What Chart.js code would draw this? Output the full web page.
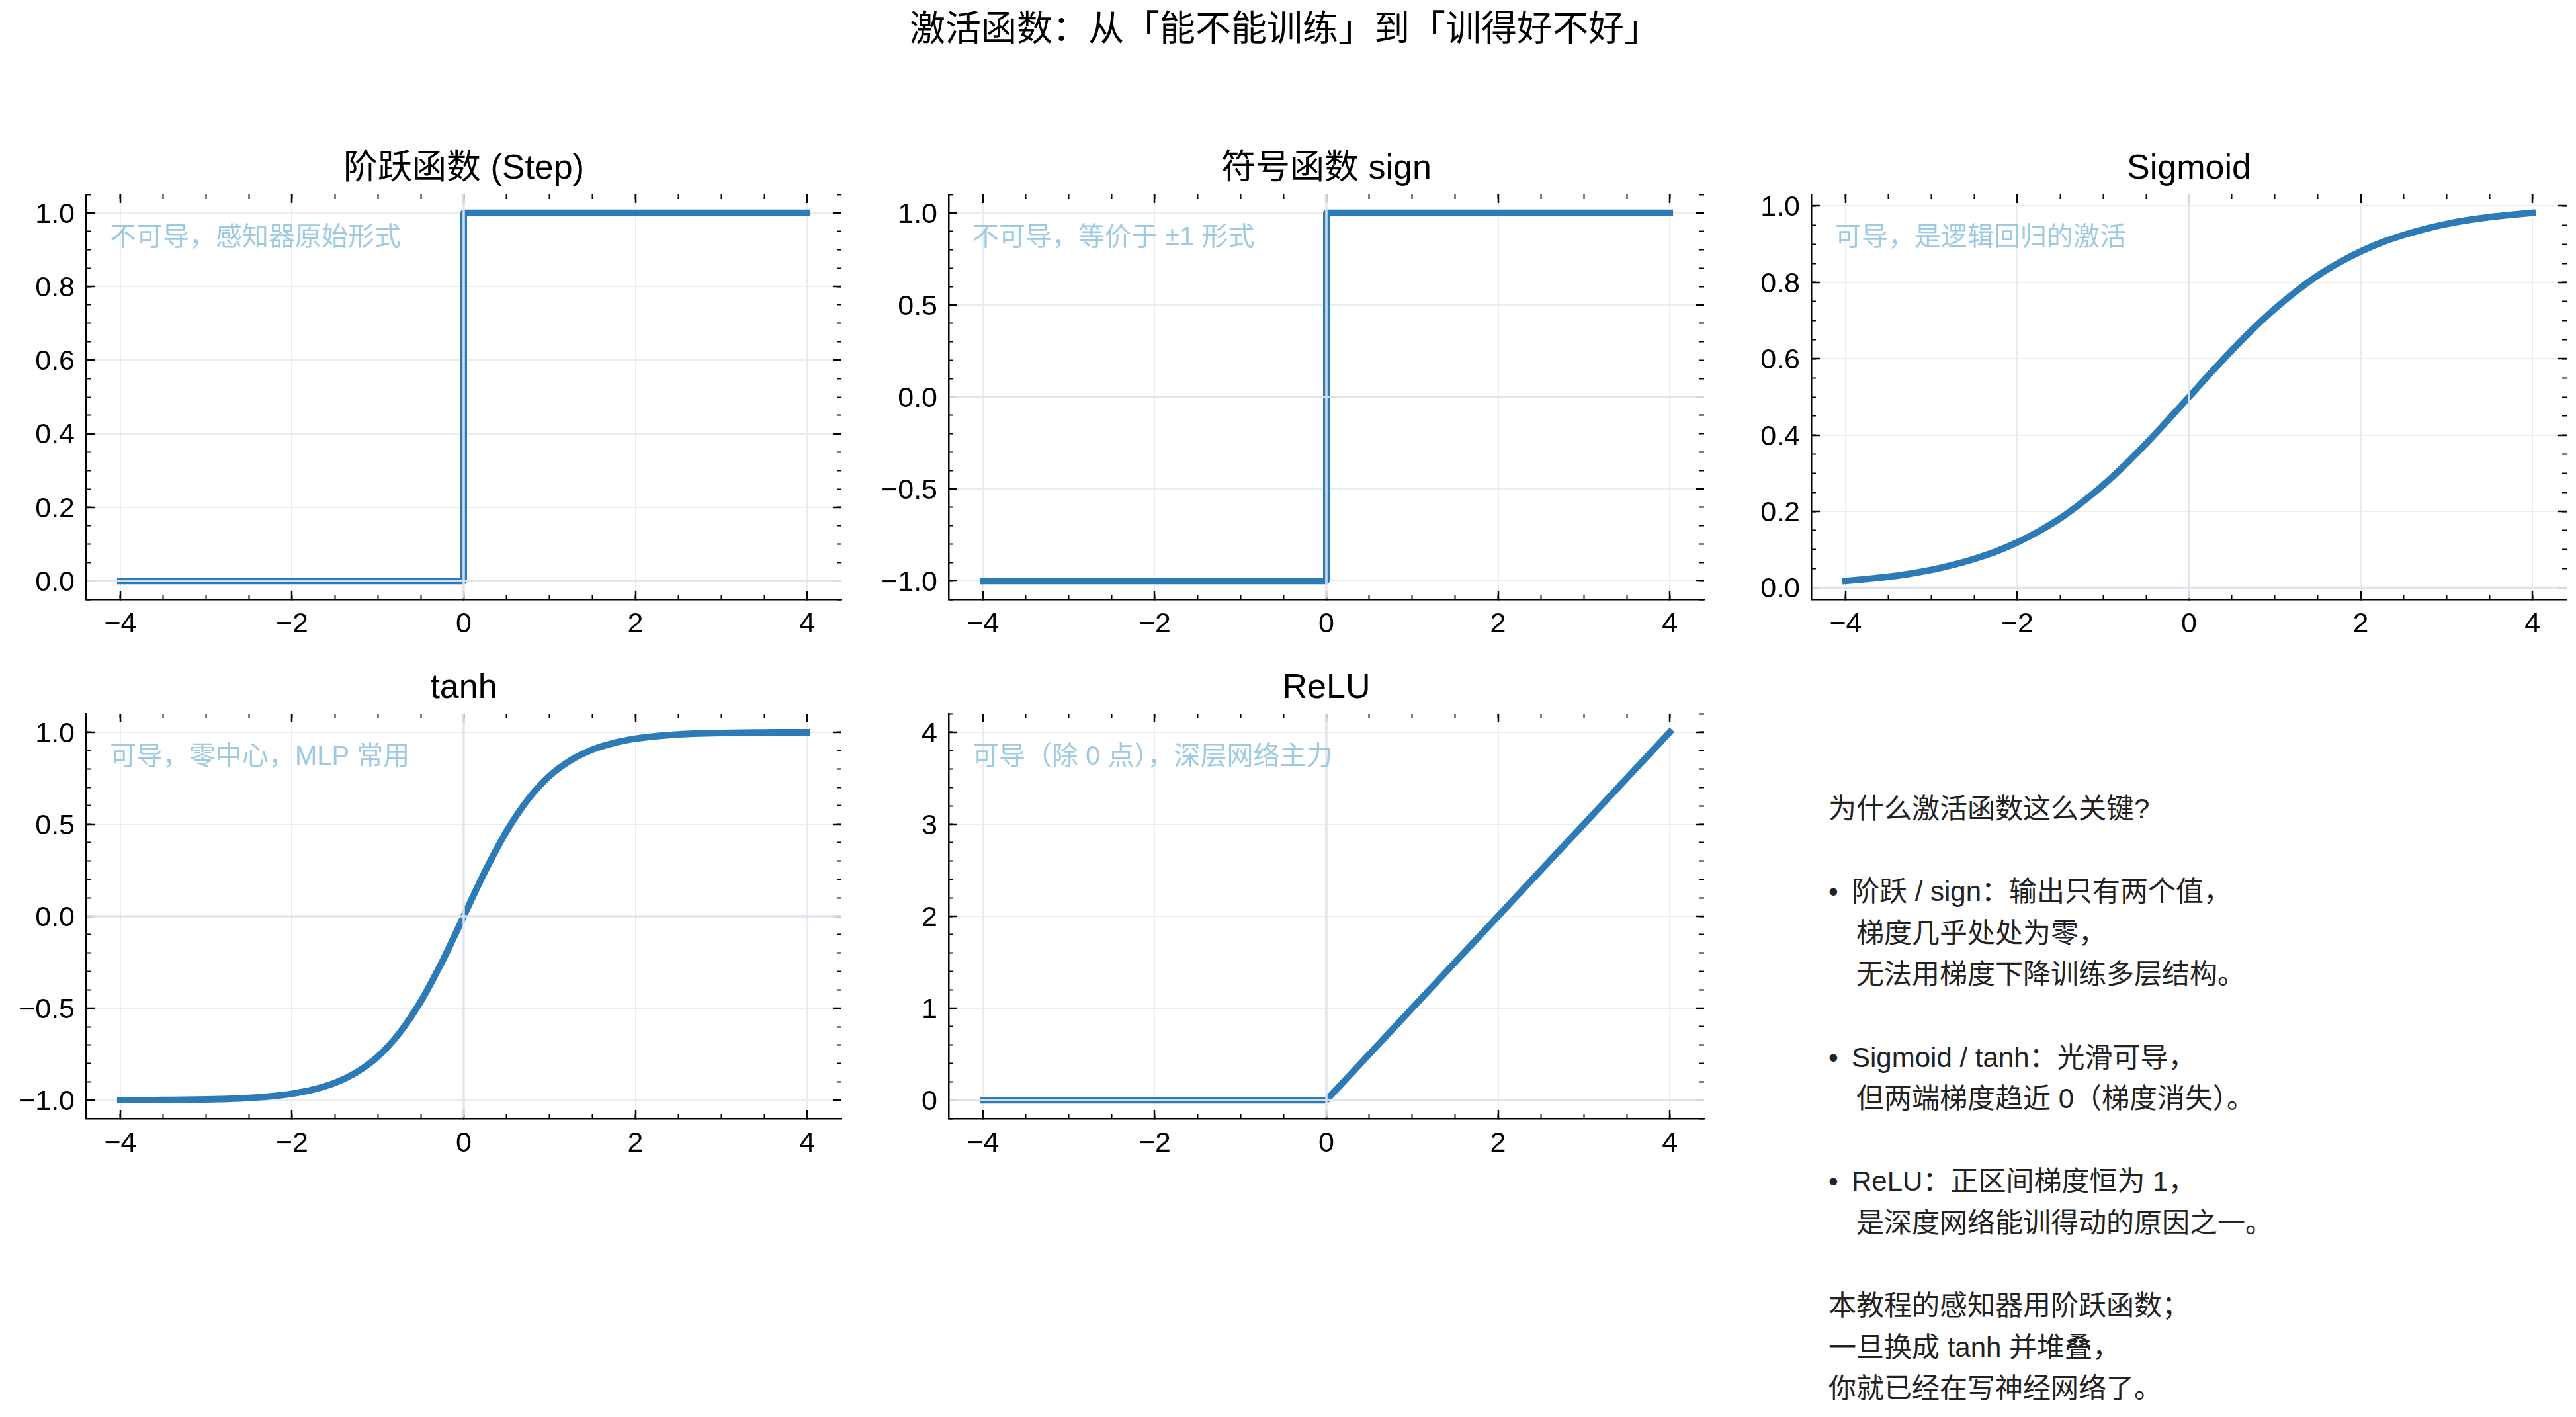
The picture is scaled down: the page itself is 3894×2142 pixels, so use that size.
<!DOCTYPE html>
<html lang="zh-CN">
  <head>
    <meta charset="UTF-8" />
    <title>激活函数</title>
    <script src="https://cdn.jsdelivr.net/npm/chart.js@4.4.1/dist/chart.umd.min.js"></script>
    <style>
      html,
      body {
        margin: 0;
        padding: 0;
        background: #fff;
      }
      body {
        width: 3894px;
        height: 2142px;
        position: relative;
        overflow: hidden;
        font-family: "Liberation Sans", "Noto Sans CJK SC", sans-serif;
      }
      canvas {
        position: absolute;
      }
      #suptitle {
        position: absolute;
        left: 0;
        top: 9px;
        width: 3884px;
        text-align: center;
        font-family: "Noto Sans CJK SC", sans-serif;
        font-size: 54px;
        line-height: 60px;
        color: #000;
      }
      #explain {
        position: absolute;
        left: 2764px;
        top: 1192px;
        font-size: 42px;
        color: #222;
        white-space: nowrap;
      }
      #explain div {
        height: 62.6px;
        line-height: 62.6px;
      }
      #explain .cont {
        padding-left: 42px;
      }
      #explain .b {
        display: inline-block;
        width: 35px;
      }
    </style>
  </head>
  <body>
    <div id="suptitle">激活函数：从「能不能训练」到「训得好不好」</div>

    <canvas id="c0" width="1286" height="787"></canvas>
    <canvas id="c1" width="1286" height="787"></canvas>
    <canvas id="c2" width="1286" height="787"></canvas>
    <canvas id="c3" width="1286" height="787"></canvas>
    <canvas id="c4" width="1286" height="787"></canvas>

    <div id="explain">
      <div>为什么激活函数这么关键?</div>
      <div></div>
      <div><span class="b">•</span>阶跃 / sign：输出只有两个值，</div>
      <div class="cont">梯度几乎处处为零，</div>
      <div class="cont">无法用梯度下降训练多层结构。</div>
      <div></div>
      <div><span class="b">•</span>Sigmoid / tanh：光滑可导，</div>
      <div class="cont">但两端梯度趋近 0（梯度消失）。</div>
      <div></div>
      <div><span class="b">•</span>ReLU：正区间梯度恒为 1，</div>
      <div class="cont">是深度网络能训得动的原因之一。</div>
      <div></div>
      <div>本教程的感知器用阶跃函数；</div>
      <div>一旦换成 tanh 并堆叠，</div>
      <div>你就已经在写神经网络了。</div>
    </div>

    <script>
      // ---- data ----
      const xTicks = [-4, -2, 0, 2, 4];

      const stepX = [-4, 0, 0, 4];
      const stepY = [0, 0, 1, 1];

      const signX = [-4, 0, 0, 4];
      const signY = [-1, -1, 1, 1];

      const smoothX = [
        -4, -3.75, -3.5, -3.25, -3, -2.75, -2.5, -2.25, -2, -1.75, -1.5, -1.25,
        -1, -0.75, -0.5, -0.25, 0, 0.25, 0.5, 0.75, 1, 1.25, 1.5, 1.75, 2, 2.25,
        2.5, 2.75, 3, 3.25, 3.5, 3.75, 4,
      ];
      const sigmoidY = [
        0.018, 0.023, 0.029, 0.037, 0.047, 0.06, 0.076, 0.095, 0.119, 0.148,
        0.182, 0.223, 0.269, 0.321, 0.378, 0.438, 0.5, 0.562, 0.622, 0.679,
        0.731, 0.777, 0.818, 0.852, 0.881, 0.905, 0.924, 0.94, 0.953, 0.963,
        0.971, 0.977, 0.982,
      ];
      const tanhY = [
        -0.999, -0.999, -0.998, -0.997, -0.995, -0.992, -0.987, -0.978, -0.964,
        -0.941, -0.905, -0.848, -0.762, -0.635, -0.462, -0.245, 0, 0.245, 0.462,
        0.635, 0.762, 0.848, 0.905, 0.941, 0.964, 0.978, 0.987, 0.992, 0.995,
        0.997, 0.998, 0.999, 0.999,
      ];

      const reluX = [-4, 0, 4];
      const reluY = [0, 0, 4];

      const stepYTicks = [0, 0.2, 0.4, 0.6, 0.8, 1.0];
      const signYTicks = [-1, -0.5, 0, 0.5, 1];
      const sigmoidYTicks = [0, 0.2, 0.4, 0.6, 0.8, 1.0];
      const tanhYTicks = [-1, -0.5, 0, 0.5, 1];
      const reluYTicks = [0, 1, 2, 3, 4];

      const titles = ["阶跃函数 (Step)", "符号函数 sign", "Sigmoid", "tanh", "ReLU"];
      const notes = [
        "不可导，感知器原始形式",
        "不可导，等价于 ±1 形式",
        "可导，是逻辑回归的激活",
        "可导，零中心，MLP 常用",
        "可导（除 0 点），深层网络主力",
      ];

      // ---- style ----
      const FONT = "'Liberation Sans', 'Noto Sans CJK SC', sans-serif";
      const BLUE = "#2c7bb6";
      const GRID = "#e9edf2";
      const ZERO = "rgba(222,229,238,0.95)";
      const NOTE = "#9ecae1";
      const PAD_L = 130;
      const PAD_B = 75;

      const cells = [
        [0, 194],
        [1304, 194],
        [2608, 194],
        [0, 979],
        [1304, 979],
      ];

      const fmt = (dec) => (v) =>
        (dec ? v.toFixed(dec) : String(Math.round(v))).replace("-", "\u2212");

      function majorAxis(axis, position, min, max, values, dec, main) {
        return {
          type: "linear",
          axis,
          position,
          min,
          max,
          weight: 1,
          afterBuildTicks: (s) => {
            s.ticks = values.map((v) => ({ value: v }));
          },
          afterFit: (s) => {
            if (axis === "x") s.height = main ? PAD_B : 0;
            else s.width = main ? PAD_L : 0;
          },
          grid: {
            drawOnChartArea: main,
            color: GRID,
            lineWidth: 2,
            drawTicks: true,
            tickLength: -13,
            tickColor: "#000",
            tickWidth: 2.5,
          },
          border: { display: main, color: "#000", width: 2.5 },
          ticks: {
            display: main,
            callback: fmt(dec),
            font: { family: FONT, size: 43 },
            color: "#000",
            padding: axis === "x" ? 25 : 30,
            labelOffset: axis === "y" ? 3 : 0,
            maxRotation: 0,
            autoSkip: false,
          },
        };
      }

      function minorAxis(axis, position, min, max, step) {
        return {
          type: "linear",
          axis,
          position,
          min,
          max,
          weight: 0,
          afterFit: (s) => {
            if (axis === "x") s.height = 0;
            else s.width = 0;
          },
          grid: {
            drawOnChartArea: false,
            drawTicks: true,
            tickLength: -7,
            tickColor: "#000",
            tickWidth: 2,
          },
          border: { display: false },
          ticks: { display: false, stepSize: step, includeBounds: false, autoSkip: false },
        };
      }

      // light zero lines on top of the curve + the pale note
      const overlay = {
        id: "overlay",
        afterDatasetsDraw(chart, args, opts) {
          const { ctx, chartArea: a, scales } = chart;
          const px = scales.x.getPixelForValue(0);
          const py = scales.y.getPixelForValue(0);
          ctx.save();
          ctx.strokeStyle = ZERO;
          ctx.lineWidth = 3.5;
          ctx.beginPath();
          ctx.moveTo(a.left + 1.5, py);
          ctx.lineTo(a.right, py);
          ctx.moveTo(px, a.top);
          ctx.lineTo(px, a.bottom - 1.5);
          ctx.stroke();
          ctx.fillStyle = NOTE;
          ctx.font = "40px " + FONT;
          ctx.textBaseline = "middle";
          ctx.textAlign = "left";
          ctx.fillText(opts.text, a.left + 36, a.top + 66);
          ctx.restore();
        },
      };

      function draw(i, xs, ys, yMin, yMax, yTicks, yMinor, dec, smooth) {
        const canvas = document.getElementById("c" + i);
        canvas.style.left = cells[i][0] + "px";
        canvas.style.top = cells[i][1] + "px";
        new Chart(canvas, {
          type: "line",
          data: {
            datasets: [
              {
                data: xs.map((x, k) => ({ x, y: ys[k] })),
                borderColor: BLUE,
                borderWidth: 10,
                pointRadius: 0,
                fill: false,
                tension: 0,
                cubicInterpolationMode: smooth ? "monotone" : "default",
                borderCapStyle: "square",
                borderJoinStyle: "round",
              },
            ],
          },
          options: {
            responsive: false,
            animation: false,
            devicePixelRatio: 1,
            layout: {
              autoPadding: false,
              padding: { top: 30.8, right: 14, bottom: 0, left: 0 },
            },
            plugins: {
              legend: { display: false },
              tooltip: { enabled: false },
              title: {
                display: true,
                fullSize: false,
                text: titles[i],
                color: "#000",
                font: { family: FONT, size: 52, weight: "normal", lineHeight: 1.2 },
                padding: { top: 0, bottom: 6.8 },
              },
              overlay: { text: notes[i] },
            },
            scales: {
              xMinor: minorAxis("x", "bottom", -4.4, 4.4, 0.5),
              x: majorAxis("x", "bottom", -4.4, 4.4, xTicks, 0, true),
              xTopMinor: minorAxis("x", "top", -4.4, 4.4, 0.5),
              xTop: majorAxis("x", "top", -4.4, 4.4, xTicks, 0, false),
              yMinor: minorAxis("y", "left", yMin, yMax, yMinor),
              y: majorAxis("y", "left", yMin, yMax, yTicks, dec, true),
              yRightMinor: minorAxis("y", "right", yMin, yMax, yMinor),
              yRight: majorAxis("y", "right", yMin, yMax, yTicks, dec, false),
            },
          },
          plugins: [overlay],
        });
      }

      draw(0, stepX, stepY, -0.05, 1.05, stepYTicks, 0.05, 1, false);
      draw(1, signX, signY, -1.1, 1.1, signYTicks, 0.1, 1, false);
      draw(2, smoothX, sigmoidY, -0.0302, 1.0302, sigmoidYTicks, 0.05, 1, true);
      draw(3, smoothX, tanhY, -1.0993, 1.0993, tanhYTicks, 0.1, 1, true);
      draw(4, reluX, reluY, -0.2, 4.2, reluYTicks, 0.2, 0, false);
    </script>
  </body>
</html>
